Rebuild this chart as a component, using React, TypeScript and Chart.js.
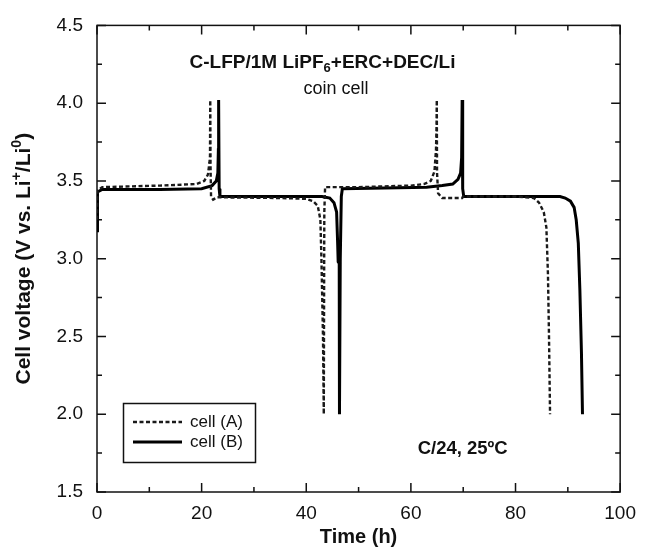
import React, { useEffect, useRef } from "react";
import { Chart, registerables } from "chart.js";

Chart.register(...registerables);

// ---- Data ----
const seriesNames = ["cell (A)", "cell (B)"];

const timeA = [
  0, 0.1, 1, 12, 19, 20.5, 21.2, 21.5, 21.6, 21.65, 21.7, 21.8, 22.2, 23, 35, 40, 41.3, 42.2, 42.7, 42.9,
  43.2, 43.35, 43.45, 43.6, 50, 60, 62.5, 63.8, 64.5, 64.8, 64.9, 64.95, 65.0, 65.2, 66, 69.8, 70, 80,
  83.5, 84.5, 85.4, 85.9, 86.2, 86.4, 86.6,
];
const voltA = [
  3.25, 3.44, 3.46, 3.47, 3.48, 3.5, 3.54, 3.62, 3.66, 4.02, 3.6, 3.4, 3.38, 3.395, 3.39, 3.385, 3.37, 3.34, 3.25, 3.0,
  2.5, 2.0, 3.3, 3.46, 3.46, 3.47, 3.48, 3.5, 3.56, 3.7, 3.85, 4.02, 3.55, 3.42, 3.39, 3.39, 3.4, 3.4,
  3.39, 3.36, 3.3, 3.2, 2.9, 2.5, 2.0,
];

const timeB = [
  0, 0.1, 1, 12, 20, 22, 22.8, 23.1, 23.2, 23.25, 23.35, 23.5, 35, 43, 44.5, 45.3, 45.8, 46.0, 46.1, 46.3,
  46.35, 46.5, 46.7, 46.9, 55, 63, 66, 68, 69, 69.5, 69.7, 69.8, 69.9, 70.1, 85, 88.5, 89.5, 90.5, 91.2,
  91.6, 92, 92.3, 92.6, 92.8,
];
const voltB = [
  3.18, 3.43, 3.445, 3.445, 3.45, 3.47, 3.5, 3.55, 3.7, 4.02, 3.45, 3.4, 3.4, 3.4, 3.39, 3.36, 3.3, 3.1, 2.98, 2.97,
  2.0, 3.0, 3.4, 3.45, 3.455, 3.46, 3.47, 3.48, 3.51, 3.55, 3.65, 4.02, 3.45, 3.4, 3.4, 3.4, 3.39, 3.37, 3.33,
  3.25, 3.1, 2.8, 2.4, 2.0,
];

const xTicks = [0, 20, 40, 60, 80, 100];
const xMinorTicks = [10, 30, 50, 70, 90];
const yTicks = [1.5, 2.0, 2.5, 3.0, 3.5, 4.0, 4.5];
const yMinorTicks = [1.75, 2.25, 2.75, 3.25, 3.75, 4.25];

const xTitle = "Time (h)";
const yTitleParts = [
  { t: "Cell voltage (V vs. Li", s: 0 },
  { t: "+", s: 1 },
  { t: "/Li", s: 0 },
  { t: "0", s: 1 },
  { t: ")", s: 0 },
];
const noteTitleParts = [
  { t: "C-LFP/1M LiPF", s: 0 },
  { t: "6", s: -1 },
  { t: "+ERC+DEC/Li", s: 0 },
];
const noteCell = "coin cell";
const noteRate = "C/24, 25ºC";

const FONT = "'Liberation Sans', Arial, Helvetica, sans-serif";
const INK = "#111";

type Part = { t: string; s: number };

function drawRich(ctx: CanvasRenderingContext2D, parts: Part[], cx: number, cy: number, size: number, weight: string) {
  const small = Math.round(size * 0.68);
  let total = 0;
  const widths = parts.map((p) => {
    ctx.font = `${weight} ${p.s ? small : size}px ${FONT}`;
    const w = ctx.measureText(p.t).width;
    total += w;
    return w;
  });
  let x = cx - total / 2;
  ctx.textBaseline = "middle";
  ctx.textAlign = "left";
  parts.forEach((p, i) => {
    ctx.font = `${weight} ${p.s ? small : size}px ${FONT}`;
    const dy = p.s === 1 ? -size * 0.35 : p.s === -1 ? size * 0.3 : 0;
    ctx.fillText(p.t, x, cy + dy);
    x += widths[i];
  });
}

const framePlugin = {
  id: "frame",
  beforeDatasetsDraw(chart: any) {
    const { ctx, chartArea: a, scales } = chart;
    const xs = scales.x;
    const ys = scales.y;
    ctx.save();
    ctx.strokeStyle = INK;
    ctx.lineWidth = 1.5;
    ctx.strokeRect(a.left, a.top, a.right - a.left, a.bottom - a.top);
    const major = 9;
    const minor = 5;
    ctx.beginPath();
    const xt = (v: number, len: number) => {
      const px = xs.getPixelForValue(v);
      ctx.moveTo(px, a.bottom);
      ctx.lineTo(px, a.bottom - len);
      ctx.moveTo(px, a.top);
      ctx.lineTo(px, a.top + len);
    };
    const yt = (v: number, len: number) => {
      const py = ys.getPixelForValue(v);
      ctx.moveTo(a.left, py);
      ctx.lineTo(a.left + len, py);
      ctx.moveTo(a.right, py);
      ctx.lineTo(a.right - len, py);
    };
    xTicks.forEach((v) => xt(v, major));
    xMinorTicks.forEach((v) => xt(v, minor));
    yTicks.forEach((v) => yt(v, major));
    yMinorTicks.forEach((v) => yt(v, minor));
    ctx.stroke();
    ctx.restore();
  },
  afterDraw(chart: any) {
    const { ctx, chartArea: a, scales } = chart;
    const xs = scales.x;
    const ys = scales.y;
    ctx.save();
    ctx.fillStyle = INK;

    // axis titles
    ctx.font = `bold 20px ${FONT}`;
    ctx.textAlign = "center";
    ctx.textBaseline = "middle";
    ctx.fillText(xTitle, (a.left + a.right) / 2, 537);

    ctx.save();
    ctx.translate(24, (a.top + a.bottom) / 2);
    ctx.rotate(-Math.PI / 2);
    drawRich(ctx, yTitleParts, 0, 0, 21, "bold");
    ctx.restore();

    // annotations
    drawRich(ctx, noteTitleParts, xs.getPixelForValue(43.1), ys.getPixelForValue(4.26), 19, "bold");
    ctx.font = `18px ${FONT}`;
    ctx.textAlign = "center";
    ctx.textBaseline = "middle";
    ctx.fillText(noteCell, xs.getPixelForValue(45.7), ys.getPixelForValue(4.09));
    ctx.font = `bold 18.5px ${FONT}`;
    ctx.fillText(noteRate, xs.getPixelForValue(69.9), ys.getPixelForValue(1.78));

    // legend
    const bx = 123.5, by = 403.5, bw = 132, bh = 59;
    ctx.fillStyle = "#fff";
    ctx.fillRect(bx, by, bw, bh);
    ctx.strokeStyle = INK;
    ctx.lineWidth = 1.5;
    ctx.strokeRect(bx, by, bw, bh);
    const rows = [422, 442];
    chart.data.datasets.forEach((ds: any, i: number) => {
      ctx.beginPath();
      ctx.setLineDash(ds.borderDash || []);
      ctx.lineWidth = ds.borderWidth;
      ctx.strokeStyle = ds.borderColor;
      ctx.moveTo(133, rows[i]);
      ctx.lineTo(182, rows[i]);
      ctx.stroke();
      ctx.setLineDash([]);
      ctx.fillStyle = INK;
      ctx.font = `17px ${FONT}`;
      ctx.textAlign = "left";
      ctx.textBaseline = "middle";
      ctx.fillText(ds.label, 190, rows[i]);
    });
    ctx.restore();
  },
};

export default function App() {
  const ref = useRef<HTMLCanvasElement>(null);
  useEffect(() => {
    document.body.style.margin = "0";
    const canvas = ref.current!;
    const chart = new Chart(canvas, {
      type: "line",
      data: {
        datasets: [
          {
            label: seriesNames[0],
            data: timeA.map((t, i) => ({ x: t, y: voltA[i] })),
            borderColor: "#1a1a1a",
            borderWidth: 2.4,
            borderDash: [4, 2.5],
            pointRadius: 0,
            tension: 0,
            fill: false,
          },
          {
            label: seriesNames[1],
            data: timeB.map((t, i) => ({ x: t, y: voltB[i] })),
            borderColor: "#000",
            borderWidth: 3,
            pointRadius: 0,
            tension: 0,
            fill: false,
          },
        ],
      },
      options: {
        responsive: false,
        animation: false,
        devicePixelRatio: 1,
        layout: { padding: { left: 0, right: 18, top: 25, bottom: 0 } },
        plugins: { legend: { display: false }, tooltip: { enabled: false } },
        scales: {
          x: {
            type: "linear",
            min: 0,
            max: 100,
            grid: { display: false, drawTicks: false },
            border: { display: false },
            ticks: {
              padding: 10,
              color: INK,
              font: { family: FONT, size: 19 },
              maxRotation: 0,
              callback: (v: any) => String(v),
            },
            afterBuildTicks: (s: any) => {
              s.ticks = xTicks.map((v) => ({ value: v }));
            },
            afterFit: (s: any) => {
              s.height = 57;
            },
          },
          y: {
            type: "linear",
            min: 1.5,
            max: 4.5,
            grid: { display: false, drawTicks: false },
            border: { display: false },
            ticks: {
              padding: 14,
              color: INK,
              font: { family: FONT, size: 19 },
              callback: (v: any) => Number(v).toFixed(1),
            },
            afterBuildTicks: (s: any) => {
              s.ticks = yTicks.map((v) => ({ value: v }));
            },
            afterFit: (s: any) => {
              s.width = 97;
            },
          },
        },
      },
      plugins: [framePlugin],
    } as any);
    return () => chart.destroy();
  }, []);
  return <canvas ref={ref} width={646} height={549} style={{ display: "block" }} />;
}
